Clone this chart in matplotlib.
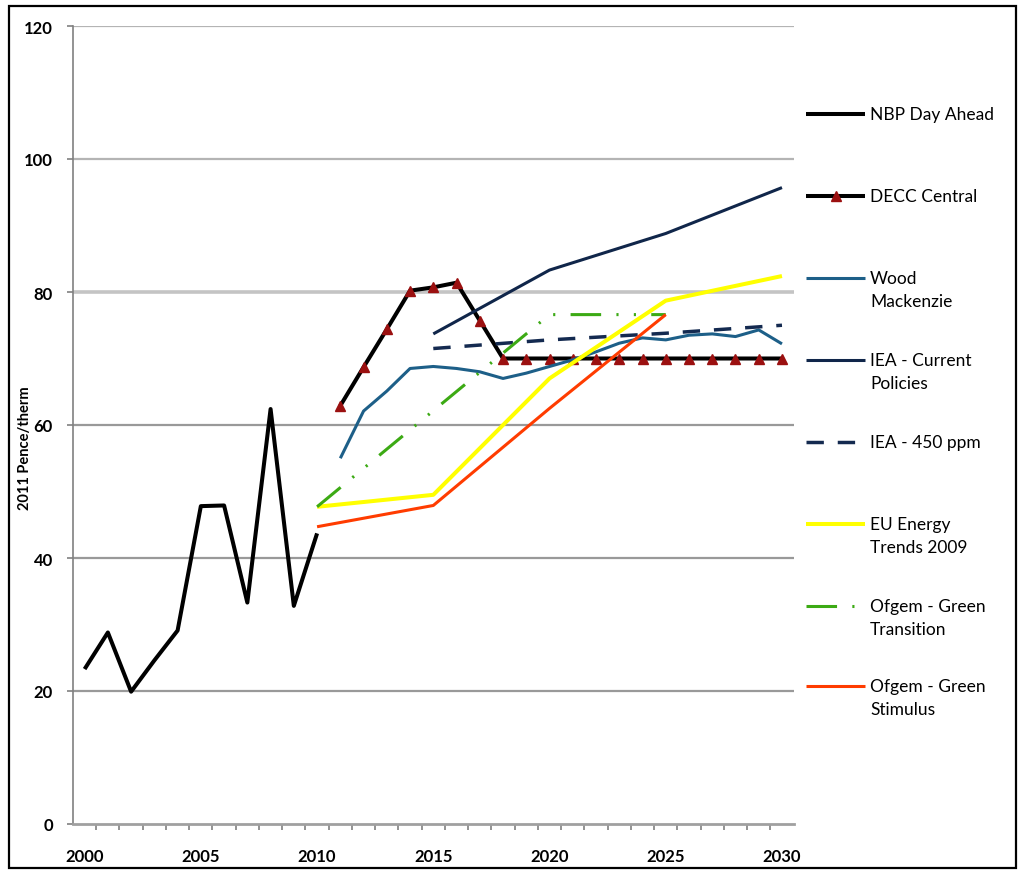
import matplotlib
matplotlib.use("Agg")
import matplotlib.pyplot as plt
from matplotlib.lines import Line2D
from matplotlib.patches import Rectangle

plt.rcParams['font.family'] = ['Lato', 'DejaVu Sans']

# data (2011 pence/therm)
nbp_years = list(range(2000, 2011))
nbp_vals = [23.3, 28.8, 19.9, 24.6, 29.1, 47.8, 47.9, 33.3, 62.4, 32.8, 43.7]

decc_years = list(range(2011, 2031))
decc_vals = [62.9, 68.7, 74.4, 80.2, 80.7, 81.4, 75.7, 70.0, 70.0, 70.0,
             70.0, 70.0, 70.0, 70.0, 70.0, 70.0, 70.0, 70.0, 70.0, 70.0]

woodmac_years = list(range(2011, 2031))
woodmac_vals = [55.0, 62.1, 65.1, 68.5, 68.8, 68.5, 68.0, 67.0, 67.8, 68.8,
                69.8, 71.0, 72.3, 73.1, 72.8, 73.5, 73.7, 73.3, 74.3, 72.2]

iea_cp_years = [2015, 2020, 2025, 2030]
iea_cp_vals = [73.7, 83.3, 88.8, 95.7]

iea_450_years = [2015, 2020, 2025, 2030]
iea_450_vals = [71.5, 72.8, 73.8, 75.0]

eu_years = [2010, 2015, 2020, 2025, 2030]
eu_vals = [47.7, 49.5, 67.0, 78.7, 82.4]

ofgem_gt_years = [2010, 2020, 2025]
ofgem_gt_vals = [47.7, 76.6, 76.6]

ofgem_gs_years = [2010, 2015, 2020, 2025]
ofgem_gs_vals = [44.7, 47.9, 62.5, 76.6]

series_labels = [["NBP Day Ahead"], ["DECC Central"], ["Wood", "Mackenzie"],
                 ["IEA - Current", "Policies"], ["IEA - 450 ppm"],
                 ["EU Energy", "Trends 2009"], ["Ofgem - Green", "Transition"],
                 ["Ofgem - Green", "Stimulus"]]

W, H = 1024, 878
fig = plt.figure(figsize=(W / 100, H / 100), dpi=100)
ax = fig.add_axes([73 / W, 1 - 825 / H, (793.6 - 73) / W, (825 - 27) / H])

styles = [
    dict(color='black', lw=2.9),
    dict(color='black', lw=2.9, marker='^', ms=7, mfc='#9b1010', mec='#9b1010'),
    dict(color='#1d5f88', lw=2.2),
    dict(color='#10264a', lw=2.2),
    dict(color='#142a50', lw=2.5, dashes=(5, 4)),
    dict(color='#ffff00', lw=2.9),
    dict(color='#3caa14', lw=2.2, dashes=(10, 5, 0.7, 5, 0.7, 5)),
    dict(color='#ff3c00', lw=2.2),
]
data = [(nbp_years, nbp_vals), (decc_years, decc_vals),
        (woodmac_years, woodmac_vals), (iea_cp_years, iea_cp_vals),
        (iea_450_years, iea_450_vals), (eu_years, eu_vals),
        (ofgem_gt_years, ofgem_gt_vals), (ofgem_gs_years, ofgem_gs_vals)]

for (xs, ys), st in zip(data, styles):
    ax.plot(xs, ys, solid_capstyle='butt', **st)

ax.set_xlim(1999.5, 2030.5)
ax.set_ylim(0, 120)

# gridlines
for v in range(20, 121, 20):
    if v == 80:
        ax.axhline(v, color='#c4c4c4', lw=2.6, zorder=0)
    elif v in (100, 120):
        ax.axhline(v, color='#b4b4b4', lw=1.6, zorder=0)
    else:
        ax.axhline(v, color='#999999', lw=1.6, zorder=0)

for s in ['top', 'right']:
    ax.spines[s].set_visible(False)
ax.spines['left'].set_color('#808080')
ax.spines['left'].set_linewidth(1.2)
ax.spines['bottom'].set_color('#a0a0a0')
ax.spines['bottom'].set_linewidth(2)

ax.set_yticks(range(0, 121, 20))
ax.tick_params(axis='y', length=4.5, width=1.2, color='#808080', pad=10,
               labelsize=12)
ax.set_xticks(range(2000, 2031, 5))
ax.set_xticks([y + 0.5 for y in range(2000, 2030)], minor=True)
ax.tick_params(axis='x', which='major', length=0, pad=17, labelsize=12)
ax.tick_params(axis='x', which='minor', length=4, width=1.2, color='#808080')
for lab in ax.get_xticklabels() + ax.get_yticklabels():
    lab.set_fontweight('bold')

fig.text(25 / W, 1 - 448 / H, "2011 Pence/therm", rotation=90, ha='center',
         va='center', fontsize=10.5, fontweight='bold')

# legend drawn by hand so the sample sits on the first text line
row_y = [115, 197, 279, 361, 443, 525, 607, 687]
for labs, st, yp in zip(series_labels, styles, row_y):
    yf = 1 - yp / H
    kw = {k: v for k, v in st.items() if k not in ('marker', 'ms', 'mfc', 'mec')}
    fig.add_artist(Line2D([806 / W, 865 / W], [yf, yf], transform=fig.transFigure,
                          solid_capstyle='butt', **kw))
    if 'marker' in st:
        fig.add_artist(Line2D([835.5 / W], [yf], transform=fig.transFigure,
                              marker='^', ms=7, color='#9b1010', lw=0))
    for i, t in enumerate(labs):
        fig.text(870 / W, 1 - (yp + i * 23) / H, t, ha='left', va='center',
                 fontsize=12.5)

fig.add_artist(Rectangle((9 / W, 1 - 869 / H), (1016 - 9) / W, (869 - 7) / H,
                         fill=False, lw=1.6, ec='black', transform=fig.transFigure))

fig.savefig("out.png", dpi=100)
